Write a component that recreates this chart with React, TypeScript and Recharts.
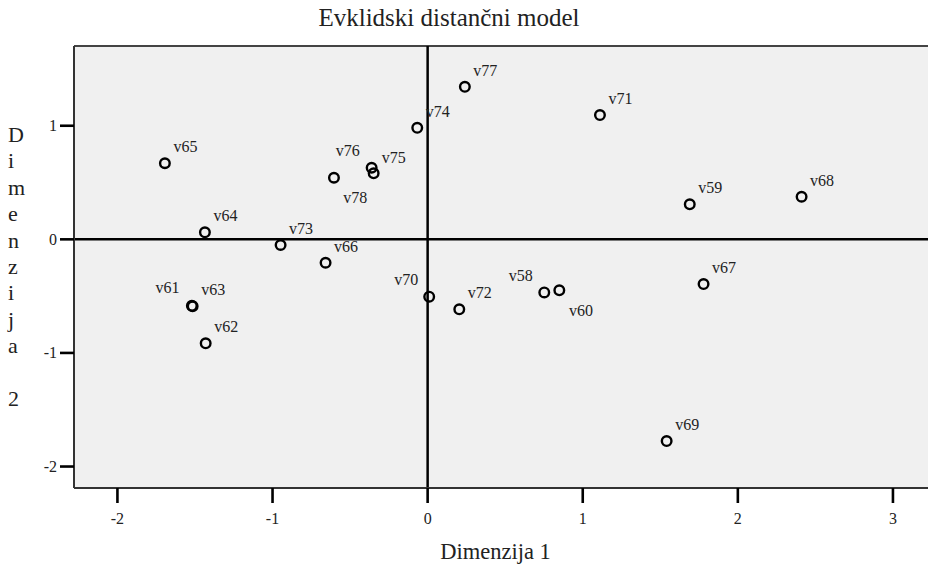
import React from "react";
import {
  ScatterChart,
  Scatter,
  XAxis,
  YAxis,
  CartesianGrid,
  ReferenceLine,
} from "recharts";

// ---- data ----
const stimuli = [
  "v58", "v59", "v60", "v61", "v62", "v63", "v64", "v65", "v66", "v67", "v68",
  "v69", "v70", "v71", "v72", "v73", "v74", "v75", "v76", "v77", "v78",
];
const dim1 = [
  0.752, 1.69, 0.849, -1.52, -1.431, -1.515, -1.436, -1.694, -0.658, 1.779, 2.411,
  1.541, 0.01, 1.111, 0.204, -0.948, -0.067, -0.361, -0.604, 0.24, -0.348,
];
const dim2 = [
  -0.467, 0.308, -0.449, -0.585, -0.915, -0.59, 0.062, 0.67, -0.206, -0.394, 0.375,
  -1.776, -0.505, 1.094, -0.616, -0.05, 0.982, 0.63, 0.542, 1.343, 0.581,
];
const xTicks = [-2, -1, 0, 1, 2, 3];
const yTicks = [-2, -1, 0, 1];
const titleText = "Evklidski distančni model";
const xLabelText = "Dimenzija 1";
const yLabelText = "Dimenzija 2";

// ---- layout (label placement, not data) ----
const labelPlacement: Record<string, { dx: number; dy: number; anchor?: string }> = {
  v76: { dx: 1.7, dy: -21.7 },
  v75: { dx: 10, dy: -4.4 },
  v78: { dx: -30.4, dy: 30 },
  v58: { dx: -11.6, dy: -11.6, anchor: "end" },
  v60: { dx: 9.7, dy: 25.7 },
  v70: { dx: -11, dy: -11.7, anchor: "end" },
  v61: { dx: -12.3, dy: -12.7, anchor: "end" },
};
const defaultPlacement = { dx: 8.5, dy: -11 };

const FONT = '"Liberation Serif", "Times New Roman", serif';
const TEXT = "#222";

const points = stimuli.map((name, i) => ({ name, x: dim1[i], y: dim2[i] }));

const Marker = (props: any) => {
  const { cx, cy, payload } = props;
  if (cx == null || cy == null) return null;
  const p = labelPlacement[payload.name] || defaultPlacement;
  return (
    <g>
      <circle cx={cx} cy={cy} r={4.8} fill="none" stroke="#000" strokeWidth={2.4} />
      <text
        x={cx + p.dx}
        y={cy + p.dy}
        textAnchor={(p as any).anchor || "start"}
        fontFamily={FONT}
        fontSize={16}
        fill={TEXT}
      >
        {payload.name}
      </text>
    </g>
  );
};

const XTick = (props: any) => {
  const { x, y, payload } = props;
  return (
    <text x={x} y={y + 11.5} textAnchor="middle" fontFamily={FONT} fontSize={16} fill={TEXT}>
      {payload.value}
    </text>
  );
};

const YTick = (props: any) => {
  const { x, y, payload } = props;
  return (
    <text x={x} y={y + 5.5} textAnchor="end" fontFamily={FONT} fontSize={16} fill={TEXT}>
      {payload.value}
    </text>
  );
};

export default function App() {
  const yChars = yLabelText.split("");
  return (
    <div style={{ position: "absolute", left: 0, top: 0, width: 928, height: 565, background: "#fff" }}>
      <ScatterChart width={928} height={565} margin={{ top: 46, right: 0, bottom: 0, left: 0 }}>
        <CartesianGrid horizontal={false} vertical={false} fill="#f0f0f0" />
        <XAxis
          type="number"
          dataKey="x"
          domain={[-2.28, 3.226]}
          ticks={xTicks}
          allowDataOverflow
          height={77}
          tickSize={15}
          tickMargin={9}
          axisLine={{ stroke: "#333", strokeWidth: 2 }}
          tickLine={{ stroke: "#000", strokeWidth: 2.6 }}
          tick={<XTick />}
        />
        <YAxis
          type="number"
          dataKey="y"
          domain={[-2.189, 1.702]}
          ticks={yTicks}
          allowDataOverflow
          width={74}
          tickSize={14}
          tickMargin={3}
          axisLine={{ stroke: "#333", strokeWidth: 2 }}
          tickLine={{ stroke: "#000", strokeWidth: 2.6 }}
          tick={<YTick />}
        />
        <ReferenceLine y={1.702} stroke="#444" strokeWidth={2} />
        <ReferenceLine x={0} stroke="#000" strokeWidth={2.5} />
        <ReferenceLine y={0} stroke="#000" strokeWidth={2.5} />
        <Scatter data={points} isAnimationActive={false} shape={Marker} />
      </ScatterChart>
      <svg
        width={928}
        height={565}
        style={{ position: "absolute", left: 0, top: 0, pointerEvents: "none" }}
      >
        <text x={449} y={26} textAnchor="middle" fontFamily={FONT} fontSize={25} fill={TEXT}>
          {titleText}
        </text>
        <text x={495.5} y={559} textAnchor="middle" fontFamily={FONT} fontSize={22.5} fill={TEXT}>
          {xLabelText}
        </text>
        <text x={8} y={142} fontFamily={FONT} fontSize={22} fill={TEXT}>
          {yChars.map((c, i) => (
            <tspan key={i} x={8} y={142 + i * 26.4}>
              {c === " " ? "\u00a0" : c}
            </tspan>
          ))}
        </text>
      </svg>
    </div>
  );
}
